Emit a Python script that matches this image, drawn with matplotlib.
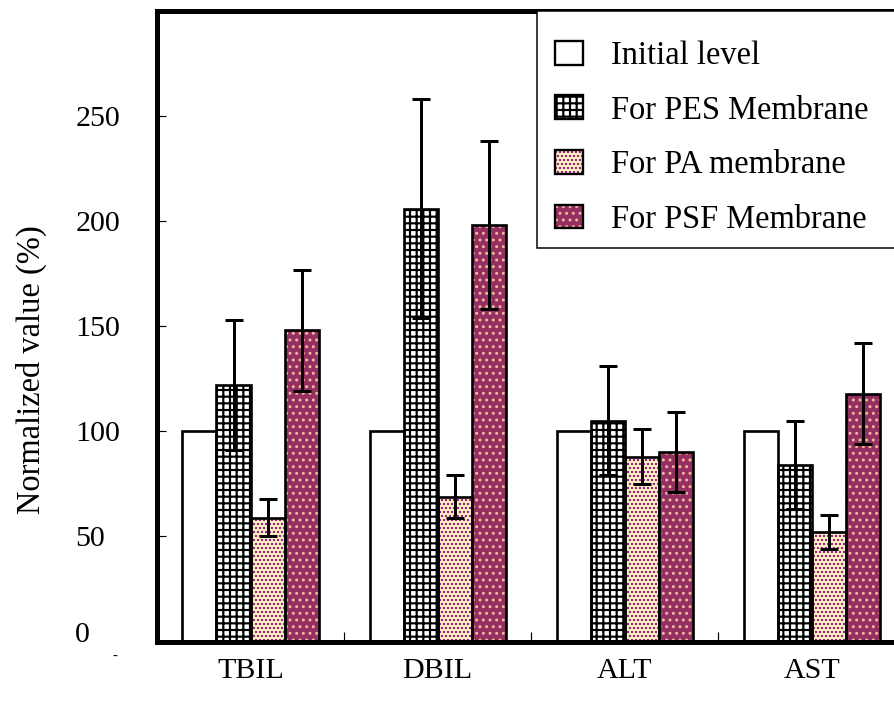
import numpy as np
import matplotlib
matplotlib.use("Agg")
import matplotlib.pyplot as plt
from matplotlib.patches import Patch, Rectangle
from matplotlib.legend_handler import HandlerTuple, HandlerPatch

# ---------------------------------------------------------------------------
# Data
# ---------------------------------------------------------------------------
categories = ["TBIL", "DBIL", "ALT", "AST"]
series     = ["Initial level", "For PES Membrane", "For PA membrane", "For PSF Membrane"]

initial  = [100, 100, 100, 100]
pes      = [122, 206, 105, 84]
pes_err  = [31, 52, 26, 21]
pa       = [59, 69, 88, 52]
pa_err   = [9, 10, 13, 8]
psf      = [148, 198, 90, 118]
psf_err  = [29, 40, 19, 24]

yticks = [0, 50, 100, 150, 200, 250]

# ---------------------------------------------------------------------------
# Style
# ---------------------------------------------------------------------------
DPI    = 120
FONT   = "Liberation Serif"
BAR_W  = 0.182

# face, hatch, hatch colour, hatch linewidth
STYLES = [
    ("white",   None,    "black",   0.0),
    ("white",   "+++",   "black",   1.3),
    ("#fff6c2", "ooooo", "#9a2a88", 0.45),
    ("#942f62", "...",   "#f3b79a", 1.0),
]

plt.rcParams["font.family"] = [FONT, "DejaVu Serif"]

fig = plt.figure(figsize=(894 / DPI, 712 / DPI), dpi=DPI)
# axes run past the right edge of the canvas, like in the reference
ax = fig.add_axes([0.1756, 0.0990, 0.8372, 0.8855])

x = np.arange(len(categories))
values = [initial, pes, pa, psf]
errors = [None, pes_err, pa_err, psf_err]

for i, (vals, errs) in enumerate(zip(values, errors)):
    face, hatch, hcol, hlw = STYLES[i]
    pos = x + (i - 1.5) * BAR_W
    with plt.rc_context({"hatch.linewidth": hlw}):
        fill = ax.bar(pos, vals, BAR_W, color=face, edgecolor=hcol,
                      hatch=hatch, linewidth=0, zorder=2)
    for p in fill:
        if hasattr(p, "set_hatch_linewidth"):
            p.set_hatch_linewidth(hlw)
    ax.bar(pos, vals, BAR_W, fill=False, edgecolor="black",
           linewidth=1.6, zorder=3)
    if errs is not None:
        ax.errorbar(pos, vals, yerr=errs, fmt="none", ecolor="black",
                    elinewidth=1.8, capsize=5.5, capthick=1.8, zorder=4)

# --- axes ---
ax.set_xlim(-0.5, 3.5)
ax.set_ylim(0, 300)

ax.set_xticks(x)
ax.set_xticklabels(categories, fontsize=18)
ax.set_xticks(x[:-1] + 0.5, minor=True)
ax.tick_params(axis="x", which="major", length=0, pad=9.6)
ax.tick_params(axis="x", which="minor", direction="in", length=6, width=0.7)

ax.set_yticks(yticks)
ax.set_yticklabels([str(t) for t in yticks], fontsize=18)
ax.tick_params(axis="y", direction="in", length=5.4, width=0.7, pad=49)
for lab in ax.get_yticklabels():
    lab.set_horizontalalignment("left")
ax.get_yticklabels()[0].set_verticalalignment("baseline")

ax.set_ylabel("Normalized value (%)", fontsize=19.5)
ax.yaxis.set_label_coords(-0.147, 0.431)

for side in ("left", "top", "bottom"):
    ax.spines[side].set_linewidth(3)
ax.spines["right"].set_visible(False)

ax.text(-0.056, -0.024, "-", transform=ax.transAxes, fontsize=9,
        ha="center", va="center")

# --- legend: box drawn separately, entries placed inside it ---
ax.add_patch(Rectangle((0.508, 0.624), 0.6, 0.376, transform=ax.transAxes,
                       facecolor="white", edgecolor="black", linewidth=0.9,
                       zorder=5, clip_on=False))

handles = []
for face, hatch, hcol, hlw in STYLES:
    with plt.rc_context({"hatch.linewidth": hlw}):
        inner = Patch(facecolor=face, edgecolor=hcol, hatch=hatch, linewidth=0)
    if hasattr(inner, "set_hatch_linewidth"):
        inner.set_hatch_linewidth(hlw)
    outer = Patch(fill=False, edgecolor="black", linewidth=1.4)
    handles.append((inner, outer))


def copy_hatch(legend_handle, orig_handle):
    legend_handle.update_from(orig_handle)
    if hasattr(orig_handle, "get_hatch_linewidth"):
        legend_handle.set_hatch_linewidth(orig_handle.get_hatch_linewidth())


leg = ax.legend(handles, series, loc="upper left",
                bbox_to_anchor=(0.532, 0.953), borderaxespad=0, borderpad=0,
                fontsize=19.5, frameon=False,
                handler_map={tuple: HandlerTuple(ndivide=1, pad=0),
                             Patch: HandlerPatch(update_func=copy_hatch)},
                handlelength=0.86, handleheight=0.75, handletextpad=0.85,
                labelspacing=0.74)
leg.set_zorder(6)

fig.savefig("out.png", dpi=DPI)
plt.close(fig)
